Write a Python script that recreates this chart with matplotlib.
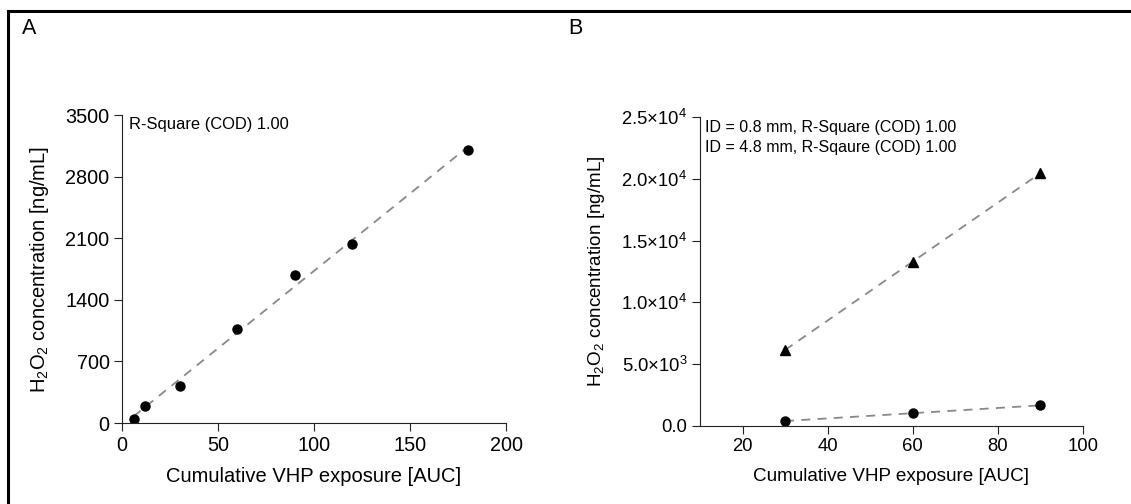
import matplotlib
matplotlib.use('Agg')
import matplotlib.pyplot as plt
import numpy as np
from matplotlib.lines import Line2D
from matplotlib.ticker import FuncFormatter

plt.rcParams['font.family'] = ['Liberation Sans', 'DejaVu Sans']
plt.rcParams['mathtext.fontset'] = 'custom'
plt.rcParams['mathtext.rm'] = 'Liberation Sans'
plt.rcParams['mathtext.it'] = 'Liberation Sans:italic'
plt.rcParams['mathtext.default'] = 'regular'

# panel A data
auc_a = [6, 12, 30, 60, 90, 120, 180]
conc_a = [50, 190, 421, 1069, 1683, 2034, 3099]

# panel B data
auc_b = [30, 60, 90]
conc_b_08 = [405, 1026, 1674]      # ID = 0.8 mm (circles)
conc_b_48 = [6156, 13283, 20464]   # ID = 4.8 mm (triangles)

fig = plt.figure(figsize=(11.31, 5.04), dpi=100)

# frame lines (top, left)
fig.add_artist(Line2D([0.007, 1.0], [0.979, 0.979], color='black', lw=2.2, transform=fig.transFigure))
fig.add_artist(Line2D([0.007, 0.007], [0.0, 0.979], color='black', lw=2.2, transform=fig.transFigure))

fig.text(0.019, 0.943, 'A', fontsize=15.5, va='center')
fig.text(0.502, 0.943, 'B', fontsize=15.5, va='center')


def style(ax, fs_tick, fs_lab):
    ax.spines['top'].set_visible(False)
    ax.spines['right'].set_visible(False)
    ax.spines['left'].set_color('#222222')
    ax.spines['bottom'].set_color('#222222')
    ax.tick_params(direction='out', labelsize=fs_tick, length=6, color='#222222', pad=3)
    ax.set_xlabel('Cumulative VHP exposure [AUC]', fontsize=fs_lab, labelpad=9)
    ax.set_ylabel(r'H$_2$O$_2$ concentration [ng/mL]', fontsize=fs_lab, labelpad=10)


# panel A
ax1 = fig.add_axes([0.1079, 0.1607, 0.3395, 0.6111])
k, b = np.polyfit(auc_a, conc_a, 1)
xf = np.array([auc_a[0], auc_a[-1]])
ax1.plot(xf, k * xf + b, ls=(0, (5, 4)), color='#888888', lw=1.3)
ax1.plot(auc_a, conc_a, 'o', color='black', ms=6.5)
ax1.set_xlim(0, 200)
ax1.set_ylim(0, 3500)
ax1.set_xticks([0, 50, 100, 150, 200])
ax1.set_yticks([0, 700, 1400, 2100, 2800, 3500])
ax1.text(0.017, 0.995, 'R-Square (COD) 1.00', transform=ax1.transAxes,
         fontsize=11.9, va='top', ha='left')
style(ax1, 14.3, 14.5)

# panel B
ax2 = fig.add_axes([0.6189, 0.1548, 0.3386, 0.6131])
for ys, mk in [(conc_b_08, 'o'), (conc_b_48, '^')]:
    k, b = np.polyfit(auc_b, ys, 1)
    xf = np.array([auc_b[0], auc_b[-1]])
    ax2.plot(xf, k * xf + b, ls=(0, (5, 4)), color='#888888', lw=1.3)
    ax2.plot(auc_b, ys, mk, color='black', ms=6.5)
ax2.set_xlim(10, 100)
ax2.set_ylim(0, 25000)
ax2.set_xticks([20, 40, 60, 80, 100])
ax2.set_yticks([0, 5000, 10000, 15000, 20000, 25000])


def sci(v, pos):
    if v == 0:
        return '0.0'
    e = int(np.floor(np.log10(v)))
    return r'%.1f$\times$10$^{%d}$' % (v / 10 ** e, e)


ax2.yaxis.set_major_formatter(FuncFormatter(sci))
ax2.text(0.012, 0.99, 'ID = 0.8 mm, R-Square (COD) 1.00\nID = 4.8 mm, R-Sqaure (COD) 1.00',
         transform=ax2.transAxes, fontsize=11.5, va='top', ha='left', linespacing=1.42)
style(ax2, 13.3, 13.6)

fig.savefig('out.png', dpi=100)
